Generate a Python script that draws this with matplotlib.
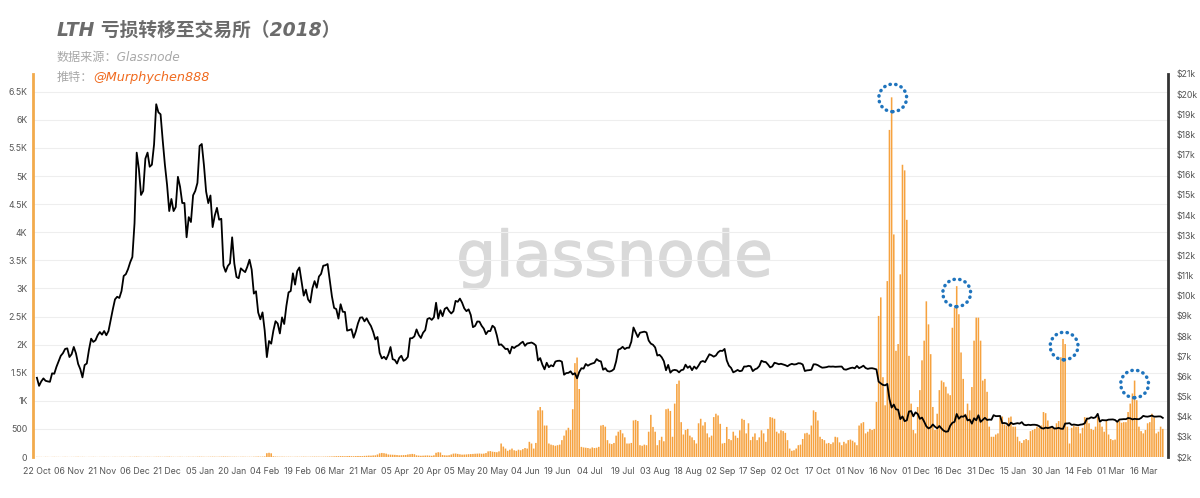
import numpy as np
import pandas as pd
import matplotlib
matplotlib.use('Agg')
import matplotlib.pyplot as plt
import matplotlib.dates as mdates
import matplotlib.patheffects as pe
from matplotlib.patches import Ellipse

plt.rcParams['font.family'] = ['Inter', 'DejaVu Sans']

start_date = '2017-10-22'
end_date = '2019-03-25'

# LTH coins sent to exchanges at a loss (daily), one month per row
lth_loss = [
    3, 2, 2, 1, 3, 2, 1, 2, 3, 2,
    2, 1, 2, 3, 2, 1, 2, 2, 3, 4, 2, 3, 2, 1, 2, 2, 3, 2, 1, 2, 2, 3, 2, 2, 1, 2, 3, 2, 2, 3,
    3, 2, 2, 4, 3, 5, 6, 4, 3, 2, 3, 4, 3, 2, 3, 4, 5, 4, 3, 4, 5, 6, 4, 3, 2, 3, 4, 3, 2, 3, 4,
    3, 4, 3, 5, 6, 5, 4, 3, 4, 5, 6, 5, 4, 5, 6, 8, 7, 6, 5, 4, 5, 4, 3, 4, 5, 4, 3, 4, 3, 5, 6,
    8, 6, 7, 10, 68, 75, 66, 12, 8, 6, 5, 6, 5, 4, 5, 4, 3, 4, 5, 4, 5, 6, 5, 4, 5, 6, 7, 6,
    6, 5, 6, 7, 8, 9, 10, 12, 14, 15, 16, 15, 14, 16, 18, 15, 14, 16, 18, 17, 16, 20, 22, 25, 24, 28, 30, 45, 65, 72, 68,
    60, 45, 42, 40, 38, 35, 30, 32, 34, 36, 45, 50, 55, 50, 30, 25, 22, 24, 26, 28, 25, 22, 30, 75, 85, 80, 35, 30, 28, 32,
    45, 60, 62, 55, 48, 42, 44, 46, 50, 52, 55, 58, 60, 62, 58, 60, 70, 100, 105, 95, 90, 85, 100, 240, 185, 150, 110, 130, 150, 120, 110,
    130, 120, 140, 160, 150, 270, 240, 150, 250, 830, 890, 830, 560, 560, 240, 220, 210, 200, 210, 220, 300, 380, 475, 520, 480, 850, 1670, 1770, 1210, 180,
    170, 165, 160, 150, 170, 160, 165, 180, 560, 570, 540, 300, 240, 230, 250, 380, 450, 480, 420, 350, 240, 240, 250, 650, 660, 640, 210, 200, 220, 210, 450,
    750, 535, 450, 210, 300, 360, 280, 850, 860, 820, 360, 950, 1300, 1360, 620, 400, 480, 500, 380, 350, 300, 240, 600, 680, 560, 620, 420, 350, 380, 710, 770,
    740, 590, 240, 250, 535, 320, 300, 450, 380, 340, 475, 680, 660, 420, 600, 300, 360, 420, 300, 350, 475, 420, 270, 500, 710, 700, 680, 450, 420, 475,
    460, 430, 300, 150, 110, 120, 150, 210, 220, 320, 420, 430, 400, 560, 830, 800, 650, 360, 320, 300, 240, 250, 230, 260, 360, 350, 260, 210, 270, 240, 300,
    310, 290, 260, 210, 560, 600, 620, 420, 450, 500, 480, 500, 980, 2510, 2840, 1420, 920, 3130, 5820, 6400, 3960, 1890, 2010, 3250, 5200, 5100, 4220, 1800, 950, 480,
    420, 890, 1190, 1720, 2070, 2770, 2360, 1830, 890, 480, 770, 1190, 1360, 1330, 1250, 1130, 1100, 2300, 2650, 3040, 2540, 1860, 1390, 770, 950, 830, 1245, 2070, 2480, 2480, 2070,
    1360, 1390, 1160, 540, 360, 360, 400, 420, 700, 720, 580, 560, 700, 720, 540, 540, 360, 280, 250, 300, 320, 300, 460, 480, 500, 540, 520, 560, 800, 780, 650,
    540, 520, 500, 600, 640, 1775, 2100, 2010, 540, 240, 520, 560, 540, 540, 420, 520, 710, 700, 600, 500, 480, 540, 710, 600, 540, 450, 650, 400,
    320, 300, 310, 620, 640, 610, 620, 620, 800, 950, 1130, 1360, 1010, 540, 460, 420, 480, 600, 620, 770, 700, 420, 450, 540, 500,
]

# BTC price in USD (daily), one month per row
btc_price = [
    5930, 5530, 5750, 5900, 5780, 5750, 5730, 6150, 6130, 6470,
    6740, 7020, 7150, 7360, 7390, 6960, 7100, 7460, 7140, 6620, 6360, 5950, 6560, 6640, 7320, 7870, 7710, 7790, 8040, 8200,
    8070, 8250, 8040, 8250, 8790, 9330, 9820, 9950, 9890, 10230,
    10980, 11070, 11320, 11660, 11920, 13600, 17100, 16300, 15000, 15200, 16800, 17100, 16400, 16500, 17500, 19500,
    19100, 19000, 17700, 16500, 15500, 14200, 14800, 14200, 14400, 15900, 15400, 14600, 14600, 12900, 13900,
    13657, 14982, 15201, 15599, 17429, 17527, 16477, 15170, 14595, 14973, 13405, 13980, 14360, 13772, 13819, 11490,
    11188, 11474, 11607, 12899, 11600, 10931, 10868, 11359, 11259, 11171, 11441, 11787, 11296, 10106, 10221,
    9170, 8830, 9174, 8277, 6955, 7754, 7621, 8265, 8736, 8621, 8129, 8926, 8598, 9494, 10166, 10233, 11112, 10551,
    11225, 11403, 10690, 10005, 10301, 9813, 9664, 10366, 10725, 10397,
    10951, 11086, 11489, 11512, 11573, 10780, 9965, 9395, 9337, 8866, 9578, 9205, 9194, 8269, 8300, 8338, 7916, 8223,
    8630, 8913, 8929, 8729, 8880, 8668, 8495, 8209, 7833, 7954, 7165, 6891, 6973,
    6845, 7083, 7456, 6853, 6811, 6636, 6911, 7023, 6770, 6834, 6969, 7889, 7895, 7986, 8329, 8058, 7903, 8163, 8294,
    8845, 8895, 8802, 8931, 9652, 8864, 9279, 8988, 9348, 9419, 9240,
    9119, 9235, 9744, 9700, 9858, 9655, 9373, 9234, 9325, 9044, 8441, 8505, 8723, 8716, 8510, 8368, 8094, 8250, 8247,
    8514, 8419, 8042, 7557, 7587, 7480, 7355, 7368, 7135, 7472, 7406, 7494,
    7541, 7643, 7720, 7514, 7633, 7653, 7679, 7624, 7531, 6786, 6906, 6582, 6349, 6675, 6456, 6550, 6499, 6734, 6769,
    6776, 6729, 6083, 6162, 6173, 6250, 6094, 6157, 5903, 6218, 6404,
    6385, 6614, 6529, 6597, 6639, 6673, 6857, 6773, 6741, 6329, 6404, 6265, 6238, 6276, 6359, 6742, 7322, 7370, 7466,
    7354, 7419, 7419, 7718, 8425, 8182, 7951, 8166, 8193, 8218, 8180, 7780,
    7625, 7567, 7434, 7033, 7068, 6951, 6754, 6305, 6569, 6184, 6295, 6322, 6297, 6199, 6308, 6334, 6580, 6423, 6506,
    6308, 6489, 6376, 6534, 6719, 6763, 6708, 6907, 7096, 7047, 6978, 7037,
    7193, 7273, 7260, 7361, 6792, 6530, 6419, 6200, 6252, 6319, 6255, 6282, 6488, 6487, 6523, 6501, 6261, 6350, 6396,
    6510, 6776, 6722, 6710, 6591, 6446, 6495, 6676, 6644, 6602, 6625,
    6589, 6556, 6502, 6576, 6622, 6588, 6603, 6653, 6644, 6590, 6266, 6298, 6308, 6328, 6597, 6596, 6554, 6486, 6431,
    6441, 6458, 6491, 6481, 6488, 6473, 6480, 6486, 6487, 6350, 6332, 6371,
    6411, 6434, 6399, 6519, 6409, 6462, 6530, 6415, 6371, 6398, 6404, 6379, 6345, 5739, 5649, 5576, 5554, 5623, 4871,
    4451, 4602, 4365, 4347, 3880, 4009, 3779, 3820, 4257, 4278, 4017,
    4214, 4139, 3894, 3956, 3753, 3522, 3419, 3476, 3614, 3502, 3425, 3539, 3414, 3305, 3253, 3273, 3550, 3696, 3745,
    4134, 3897, 4014, 3998, 4078, 3815, 3857, 3654, 3923, 3821, 4071, 3743,
    3843, 3943, 3837, 3858, 3846, 4076, 4026, 4031, 4035, 3678, 3687, 3661, 3553, 3706, 3630, 3655, 3679, 3657, 3729,
    3601, 3577, 3600, 3584, 3600, 3600, 3583, 3532, 3436, 3411, 3459, 3434,
    3462, 3505, 3413, 3419, 3446, 3404, 3397, 3661, 3665, 3680, 3592, 3611, 3593, 3577, 3604, 3619, 3668, 3898, 3908,
    3972, 3933, 3971, 4140, 3747, 3833, 3823, 3819, 3854,
    3859, 3864, 3836, 3745, 3859, 3869, 3879, 3877, 3934, 3916, 3868, 3892, 3879, 3876, 3936, 4041, 4009, 4001, 4025,
    4056, 4001, 4004, 4014, 4012, 3940,
]

# dotted circles drawn round the loss spikes
highlight_dates = ['2018-11-20 12:00', '2018-12-20', '2019-02-07 12:00', '2019-03-12']
highlight_levels = [6390, 2920, 1975, 1300]

title = 'LTH 亏损转移至交易所（2018）'
source = '数据来源：Glassnode'
twitter_label = '推特：'
twitter_handle = '@Murphychen888'

dates = pd.date_range(start_date, end_date, freq='D')

fig = plt.figure(figsize=(12, 4.98), dpi=100)
ax = fig.add_axes([33 / 1200, 41 / 498, 1135 / 1200, 383 / 498])

ax.bar(dates, lth_loss, width=0.72, color='#f6a23f', linewidth=0, snap=False, zorder=2)
ax.set_ylim(0, 6815)
yt = np.arange(0, 6501, 500)
ax.set_yticks(yt)
ax.set_yticklabels(['0' if v == 0 else ('500' if v == 500 else ('%gK' % (v / 1000))) for v in yt])
ax.grid(axis='y', color='#eeeeee', lw=0.8)
ax.set_axisbelow(True)

t0 = pd.Timestamp(start_date)
ax.set_xlim(t0 - pd.Timedelta(days=1.8), t0 + pd.Timedelta(days=521.4))
ax.set_xticks(pd.date_range(start_date, periods=35, freq='15D'))
ax.xaxis.set_major_formatter(mdates.DateFormatter('%d %b'))

for s in ['top', 'right', 'bottom']:
    ax.spines[s].set_visible(False)
ax.spines['left'].set_color('#f2aa4c')
ax.spines['left'].set_linewidth(2)
ax.tick_params(axis='y', length=0, labelsize=6.3, labelcolor='#555555', pad=4)
ax.tick_params(axis='x', length=0, labelsize=6.3, labelcolor='#555555', pad=7)

ax.text(0.512, 0.48, 'glassnode', transform=fig.transFigure, ha='center', va='center',
        fontsize=45, color='#d9d9d9', family='DejaVu Sans', zorder=0,
        path_effects=[pe.withStroke(linewidth=1.0, foreground='#d9d9d9')])

ax2 = ax.twinx()
ax2.plot(dates, btc_price, color='black', lw=1.3, zorder=3)
ax2.set_ylim(2000, 21000)
rt = np.arange(2000, 21001, 1000)
ax2.set_yticks(rt)
ax2.set_yticklabels(['$%dk' % (v // 1000) for v in rt])
for s in ['top', 'left', 'bottom']:
    ax2.spines[s].set_visible(False)
ax2.spines['right'].set_color('#333333')
ax2.spines['right'].set_linewidth(2)
ax2.tick_params(axis='y', length=0, labelsize=6.3, labelcolor='#555555', pad=6)

for d, lv in zip(highlight_dates, highlight_levels):
    circ = Ellipse((mdates.date2num(pd.Timestamp(d)), lv), width=12.8, height=490,
                   transform=ax.transData, fill=False, edgecolor='#1f74bd',
                   lw=2.5, linestyle=(0, (0.1, 1.55)), capstyle='round', zorder=5)
    ax2.add_patch(circ)

cjk = ['DejaVu Sans', 'Noto Sans CJK SC']
fig.text(57 / 1200, 1 - 30 / 498, title, fontsize=13.5, fontweight='bold', style='italic',
         color='#6b6b6b', family=cjk, va='center')
fig.text(57 / 1200, 1 - 57 / 498, source, fontsize=8.7, style='italic',
         color='#a8a8a8', family=cjk, va='center')
lab = fig.text(57 / 1200, 1 - 77 / 498, twitter_label, fontsize=8.7, style='italic',
               color='#a8a8a8', family=cjk, va='center')
fig.canvas.draw()
bb = lab.get_window_extent(renderer=fig.canvas.get_renderer())
fig.text(bb.x1 / fig.bbox.width, 1 - 77 / 498, twitter_handle, fontsize=9.2, style='italic',
         color='#f06a1e', family=cjk, va='center')

fig.savefig('out.png', dpi=100)
